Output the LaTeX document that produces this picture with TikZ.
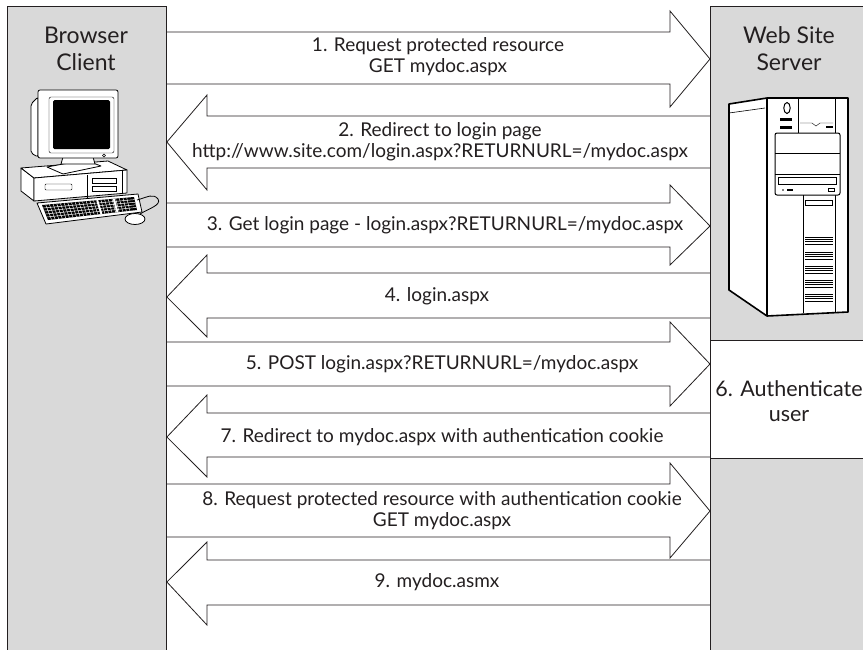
\documentclass[tikz,border=0pt]{standalone}
\usepackage{fontspec}
\setmainfont{Lato}
\usetikzlibrary{calc}
\definecolor{panelgray}{RGB}{217,217,217}
\definecolor{ink}{RGB}{35,31,32}

% block arrow from the client column to the server column:
% #1 body top, #2 body bottom, #3 head top, #4 head bottom, #5 tip
\newcommand\toserver[5]{%
  \draw[msg] (client.east |- 0,#1) -- (670,#1) -- (670,#3)
    -- (server.west |- 0,#5) -- (670,#4) -- (670,#2) -- (client.east |- 0,#2);}
% block arrow from the server column back to the client column
\newcommand\toclient[5]{%
  \draw[msg] (server.west |- 0,#1) -- (207,#1) -- (207,#3)
    -- (client.east |- 0,#5) -- (207,#4) -- (207,#2) -- (server.west |- 0,#2);}

\begin{document}
\begin{tikzpicture}[x=1pt,y=-1pt,
  column/.style={draw=ink, line width=0.9pt, fill=panelgray, minimum width=159pt,
    minimum height=700pt, anchor=north west, inner sep=0pt},
  msg/.style={draw=ink, line width=0.8pt, line join=miter},
  lbl/.style={font=\fontsize{19}{21}\selectfont, text=ink, align=center, inner sep=0pt},
  heading/.style={font=\fontsize{23}{27}\selectfont, text=ink, align=center, inner sep=0pt},
  icon/.style={draw=black, line width=0.8pt, fill=white, line join=round},
]
\clip (0,0) rectangle (863,649);
\fill[white] (0,0) rectangle (863,649);

% the two parties
\node[column] (client) at (7,6) {};
\node[column] (server) at (710,6) {};
\node[draw=ink, line width=0.9pt, fill=white, anchor=north west, minimum width=159pt,
  minimum height=118pt, inner sep=0pt] (auth) at (710,340) {};

\node[heading] (clientname) at (86,49) {Browser\\Client};
\node[heading] (servername) at (789,49) {Web Site\\Server};
\node[font=\fontsize{21.5}{25}\selectfont, text=ink, align=center, inner sep=0pt]
  (authtext) at (789,401) {6. Authenticate\\user};

% ---- desktop computer ----
% case
\filldraw[icon] (21,168) -- (34,178) -- (34,201) -- (21,191) -- cycle;
\filldraw[icon] (21,168) -- (108,161) -- (127,170) -- (34,178) -- cycle;
\filldraw[icon] (34,178) -- (127,170) -- (127,193) -- (34,201) -- cycle;
\draw[rounded corners=1] (45,184) rectangle (72,190);
\draw (87,175) -- (87,198);
\draw (92,178) rectangle (116,183);
\draw (92,186) rectangle (116,191);
\draw (122,171) -- (122,194);
% stand
\filldraw[icon] (47,167) -- (85,160) -- (101,166) -- (63,174) -- cycle;
\filldraw[icon] (63,157) -- (93,157) -- (95,164) -- (61,164) -- cycle;
% monitor
\filldraw[icon, rounded corners=2] (31,104) -- (38,97) -- (38,157) -- (31,153) -- cycle;
\filldraw[icon, rounded corners=2] (38,90) rectangle (118,158);
\draw[rounded corners=2] (49,97) rectangle (114,153);
\fill[black, rounded corners=1.5] (53,100) rectangle (110,149);
\draw (104,155.5) circle (1.5);
% keyboard
\filldraw[icon] (37,203) -- (138,194) -- (142,212) -- (46,224) -- cycle;
\coordinate (ka) at (42,205);
\coordinate (kb) at (134,197);
\coordinate (kc) at (137,210);
\coordinate (kd) at (48,220);
\fill[black] (ka) -- (kb) -- (kc) -- (kd) -- cycle;
\foreach \t in {0.2,0.4,0.6,0.8}
  \draw[white, line width=0.5pt] ($(ka)!\t!(kd)$) -- ($(kb)!\t!(kc)$);
\foreach \t in {0.04,0.08,...,0.96}
  \draw[white, line width=0.45pt] ($(ka)!\t!(kb)$) -- ($(kd)!\t!(kc)$);
\foreach \t in {0.6,0.78}
  \draw[white, line width=2pt] ($(ka)!\t!(kb)$) -- ($(kd)!\t!(kc)$);
% mouse and cable
\draw[line width=0.8pt] (137,200) .. controls (148,197) and (153,193) .. (158,199)
  .. controls (162,205) and (148,209) .. (140,214);
\filldraw[icon] (135,219) ellipse [x radius=10, y radius=5.5];

% ---- tower server ----
\filldraw[icon, line width=1.6pt] (729,104) -- (767,98) -- (848,98) -- (848,312)
  -- (767,316) -- (729,290) -- cycle;
\draw[line width=1.2pt] (767,98) -- (767,316);
\draw[line width=0.6pt] (729,113) -- (765,108);
\draw (798,98) -- (798,133);
\draw (835,98) -- (835,312);
\draw[line width=1pt] (787,108) ellipse [x radius=3.2, y radius=5.5];
\fill (780,118) rectangle (792,121);
\fill (780,125.5) rectangle (792,128.5);
\draw (800,123) -- (812,123) -- (816,126) -- (820,123) -- (833,123);
\fill (826,125.5) rectangle (833,128);
\filldraw[fill=white, line width=1pt, rounded corners=2] (775,133) rectangle (840,195);
\draw (775,153) -- (840,153);
\draw (775,174) -- (840,174);
\draw (778,177) rectangle (836,184);
\fill (783,190) circle (0.9);
\fill (787,189.3) rectangle (793,190.8);
\draw (828,188.5) rectangle (834,191);
\draw (803,195) -- (803,313);
\draw (805,200) rectangle (832,205);
\foreach \g in {237,252,266,280,294}
  \foreach \k in {0,2.4,4.8,7.2}
    \draw[line width=0.9pt] (805,\g+\k) -- (833,\g+\k);

% ---- messages ----
\toserver{32}{84}{11}{107}{59}
\toclient{116}{168}{95}{190}{142}
\toserver{203}{247}{185}{265}{226}
\toclient{273}{318}{255}{337}{297}
\toserver{342}{386}{322}{406}{364}
\toclient{413}{457}{395}{477}{437}
\toserver{484}{537}{463}{558}{511}
\toclient{560}{605}{542}{625}{582}

\node[lbl] (m1) at (438,57) {1. Request protected resource\\GET mydoc.aspx};
\node[lbl] (m2) at (440,142) {2. Redirect to login page\\http://www.site.com/login.aspx?RETURNURL=/mydoc.aspx};
\node[lbl] (m3) at (445,225) {3. Get login page - login.aspx?RETURNURL=/mydoc.aspx};
\node[lbl] (m4) at (437,296) {4. login.aspx};
\node[lbl] (m5) at (442,364) {5. POST login.aspx?RETURNURL=/mydoc.aspx};
\node[lbl] (m7) at (442,437) {7. Redirect to mydoc.aspx with authentication cookie};
\node[lbl] (m8) at (442,511) {8. Request protected resource with authentication cookie\\GET mydoc.aspx};
\node[lbl] (m9) at (437,582) {9. mydoc.asmx};
\end{tikzpicture}
\end{document}
